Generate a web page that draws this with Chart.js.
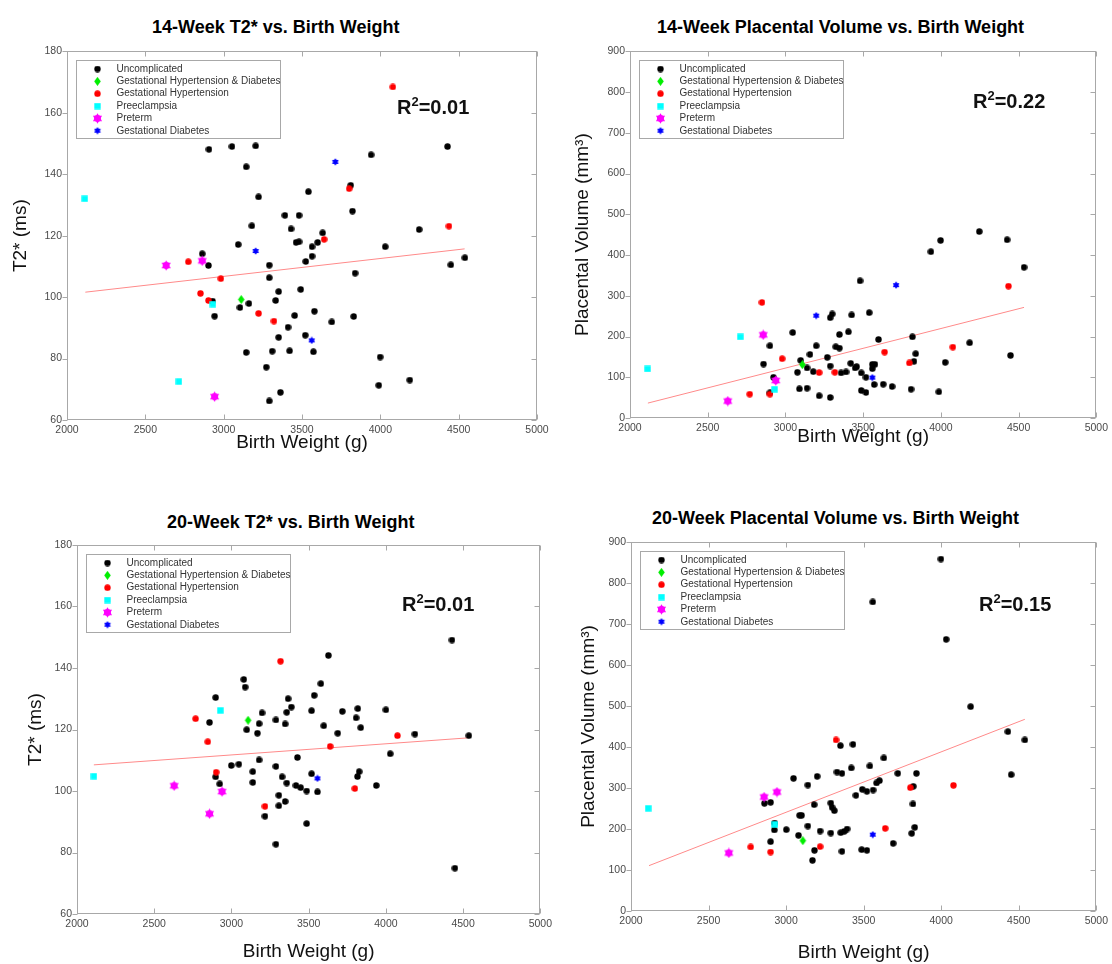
<!DOCTYPE html>
<html>
<head>
<meta charset="utf-8">
<script src="https://cdn.jsdelivr.net/npm/chart.js@4.4.0/dist/chart.umd.min.js"></script>
<style>
    body { margin: 0; background: #fff; width: 1112px; height: 964px; position: relative; overflow: hidden;
           font-family: "Liberation Sans", Arial, sans-serif; }
    canvas { position: absolute; }
    .title { position: absolute; font-weight: bold; font-size: 18px; line-height: 22px; white-space: nowrap; color: #000; }
    .r2 { position: absolute; font-weight: bold; font-size: 20px; line-height: 24px; white-space: nowrap; color: #111; }
    .r2 span { font-size: 13px; position: relative; top: -8px; }
</style>
</head>
<body>

<div class="title" style="left:152px; top:16px;">14-Week T2* vs. Birth Weight</div>
<div class="title" style="left:657px; top:16px;">14-Week Placental Volume vs. Birth Weight</div>
<div class="title" style="left:167px; top:511px;">20-Week T2* vs. Birth Weight</div>
<div class="title" style="left:652px; top:507px;">20-Week Placental Volume vs. Birth Weight</div>

<canvas id="c1" width="556" height="420" style="left:0; top:40px;"></canvas>
<canvas id="c2" width="556" height="420" style="left:556px; top:40px;"></canvas>
<canvas id="c3" width="556" height="464" style="left:0; top:500px;"></canvas>
<canvas id="c4" width="556" height="464" style="left:556px; top:500px;"></canvas>

<div class="r2" style="left:397px; top:95px;">R<span>2</span>=0.01</div>
<div class="r2" style="left:973px; top:89px;">R<span>2</span>=0.22</div>
<div class="r2" style="left:402px; top:592px;">R<span>2</span>=0.01</div>
<div class="r2" style="left:979px; top:592px;">R<span>2</span>=0.15</div>

<script>
// groups, same order in every panel
var groups = ['Uncomplicated', 'Gestational Hypertension & Diabetes', 'Gestational Hypertension',
              'Preeclampsia', 'Preterm', 'Gestational Diabetes'];
var groupColors = ['#000000', '#00ee00', '#ff0000', '#00ffff', '#ff00ff', '#0000ff'];

var weightTicks = [2000, 2500, 3000, 3500, 4000, 4500, 5000];
var t2Ticks = [60, 80, 100, 120, 140, 160, 180];
var volumeTicks = [0, 100, 200, 300, 400, 500, 600, 700, 800, 900];

// ---- 14 week T2* [birth weight g, T2* ms] ----
var t2w14Uncomplicated = [[2906,148.1],[3053,149.0],[3204,149.2],[3144,142.4],[3223,132.6],[3391,126.6],[3481,126.6],[3430,122.2],
    [3180,123.2],[3093,117.1],[2863,114.1],[2903,110.3],[3291,110.4],[3291,106.3],[3351,101.8],[3492,102.5],[3332,98.9],[3104,96.6],
    [3161,97.9],[2942,93.8],[2929,98.7],[3453,94.0],[3579,95.4],[3411,90.2],[3351,86.9],[3521,87.6],[3144,82.0],[3310,82.4],[3421,82.5],
    [3573,82.2],[3272,77.2],[3362,69.0],[3291,66.2],[3690,91.9],[3830,93.7],[3839,107.8],[3822,128.0],[3811,136.4],[3541,134.3],
    [3632,120.9],[3600,117.8],[3564,116.4],[3481,118.0],[3462,117.8],[3524,111.6],[3564,113.3],[3941,146.3],[4429,149.0],[4248,122.0],
    [4031,116.4],[3999,80.5],[3990,71.3],[4188,73.0],[4450,110.5],[4540,112.8]];
var t2w14GHD = [[3112,99.2]];
var t2w14GH = [[4080,168.4],[3801,135.3],[4438,123.1],[3641,118.8],[2774,111.5],[2982,106.0],[2852,101.2],[2903,98.9],[3223,94.7],[3321,92.2]];
var t2w14Preeclampsia = [[2113,132.0],[2931,97.7],[2714,72.5]];
var t2w14Preterm = [[2633,110.3],[2863,111.8],[2942,67.6]];
var t2w14GD = [[3713,144.0],[3204,115.0],[3562,85.9]];
var t2w14Fit = [[2117,101.6],[4538,115.7]];

// ---- 14 week placental volume [birth weight g, volume mm3] ----
var volw14Uncomplicated = [[4247,457.7],[3998,435.8],[4426,437.4],[3936,408.1],[4535,369.9],[3480,336.6],[3539,258.5],[3426,252.8],
    [3288,246.3],[3301,255.3],[3047,209.8],[3405,211.4],[3347,204.9],[3599,192.7],[3817,199.2],[2900,177.2],[3198,177.2],[3324,174.8],
    [3347,171.5],[3158,156.1],[3269,148.8],[3838,157.7],[4185,184.6],[4448,153.7],[3098,141.5],[2859,132.5],[3139,122.8],[3179,113.8],
    [3077,112.2],[3288,127.6],[3420,134.1],[3448,122.8],[3458,126.0],[3358,110.6],[3390,113.0],[3488,110.6],[3518,100.0],[3559,121.1],
    [3576,131.7],[3559,131.7],[3827,139.0],[4028,136.6],[3571,82.1],[3629,82.9],[3686,77.2],[3808,70.7],[3987,64.2],[3488,67.5],
    [3518,62.6],[3090,71.5],[3139,73.2],[3217,54.5],[3288,50.4],[2923,100.0],[2900,61.8]];
var volw14GHD = [[3109,130.9]];
var volw14GH = [[2849,283.7],[4435,323.6],[2979,145.5],[3638,161.8],[4077,174.0],[3797,135.0],[3217,111.4],[3318,112.2],[2770,58.5],[2900,58.5]];
var volw14Preeclampsia = [[2113,120.3],[2710,199.2],[2930,70.7]];
var volw14Preterm = [[2857,204.1],[2938,91.9],[2629,41.5]];
var volw14GD = [[3198,251.2],[3712,326.0],[3559,99.2]];
var volw14Fit = [[2115,36.6],[4535,271.5]];

// ---- 20 week T2* ----
var t2w20Uncomplicated = [[4428,149.1],[3628,144.1],[3080,136.3],[3089,133.8],[2898,130.4],[3367,130.0],[3579,134.9],[3536,131.1],
    [3388,127.3],[3358,125.6],[3198,125.4],[3288,123.1],[3179,121.9],[3348,121.8],[3519,126.1],[3718,125.9],[3818,126.8],[3807,123.8],
    [3837,120.6],[3598,121.2],[3688,118.8],[4000,126.4],[4188,118.5],[4537,118.0],[4028,112.1],[3099,119.9],[3168,118.8],[2858,122.3],
    [3179,110.1],[2999,108.3],[3048,108.7],[3427,110.9],[3138,106.3],[3288,108.0],[2898,104.6],[2924,102.3],[3138,102.8],[3328,104.6],
    [3358,102.6],[3418,101.8],[3448,101.1],[3487,100.0],[3519,105.6],[3557,99.7],[3827,106.3],[3816,104.7],[3938,101.8],[3307,98.6],
    [3307,95.2],[3348,96.6],[3217,91.8],[3487,89.4],[3288,82.7],[4447,74.9]];
var t2w20GHD = [[3108,123.0]];
var t2w20GH = [[3318,142.2],[2768,123.5],[2847,116.0],[2901,106.1],[3639,114.5],[4075,118.0],[3799,100.8],[3217,95.0]];
var t2w20Preeclampsia = [[2928,126.2],[2109,104.8]];
var t2w20Preterm = [[2629,101.7],[2939,99.8],[2858,92.6]];
var t2w20GD = [[3557,104.1]];
var t2w20Fit = [[2109,108.5],[4537,117.3]];

// ---- 20 week placental volume ----
var volw20Uncomplicated = [[3998,858.5],[3559,753.7],[4032,662.6],[4190,498.4],[4430,437.4],[4539,417.1],[4451,332.5],[3350,403.3],
    [3431,406.5],[3630,373.2],[3540,353.7],[3420,348.8],[3328,339.0],[3360,335.8],[3720,335.8],[3840,335.8],[3048,323.6],[3200,328.5],
    [3140,307.3],[3602,317.9],[3583,312.2],[3820,304.1],[3491,296.7],[3521,291.9],[3561,295.1],[3450,282.1],[2860,262.6],[2900,265.0],
    [3181,259.3],[3818,261.0],[3288,263.4],[3296,252.8],[3311,244.7],[3087,233.3],[3100,233.3],[3140,207.3],[3829,204.1],[2926,214.6],
    [2924,197.6],[3001,198.4],[3219,195.1],[3288,190.2],[3352,191.1],[3375,194.3],[3393,200.0],[3080,184.6],[3810,189.4],[2900,169.1],
    [3690,165.0],[3183,148.0],[3360,145.5],[3487,149.6],[3521,148.0],[3170,123.6]];
var volw20GHD = [[3108,171.5]];
var volw20GH = [[3322,417.1],[3801,300.8],[4079,306.5],[3639,201.6],[3219,156.9],[2772,156.1],[2900,143.9]];
var volw20Preeclampsia = [[2111,250.4],[2928,211.4]];
var volw20Preterm = [[2858,278.0],[2941,290.2],[2631,141.5]];
var volw20GD = [[3559,186.2]];
var volw20Fit = [[2116,110.6],[4539,467.5]];

var fontFamily = '"Liberation Sans", Arial, sans-serif';

// little canvases used as point styles (matlab-like markers)
function marker(shape, color, size) {
    var c = document.createElement('canvas');
    c.width = size; c.height = size;
    var g = c.getContext('2d');
    var m = size / 2;
    g.fillStyle = color;
    g.beginPath();
    if (shape === 'circle') {
        g.arc(m, m, m - 0.3, 0, Math.PI * 2);
    } else if (shape === 'diamond') {
        g.moveTo(m, 0); g.lineTo(size - 1.2, m); g.lineTo(m, size); g.lineTo(1.2, m); g.closePath();
    } else if (shape === 'square') {
        g.rect(0.3, 0.3, size - 0.6, size - 0.6);
    } else if (shape === 'hexagram') {
        for (var k = 0; k < 2; k++) {
            for (var j = 0; j < 3; j++) {
                var a = -Math.PI / 2 + k * Math.PI + j * 2 * Math.PI / 3;
                var px = m + (m - 0.2) * Math.cos(a), py = m + (m - 0.2) * Math.sin(a);
                if (j === 0) g.moveTo(px, py); else g.lineTo(px, py);
            }
            g.closePath();
        }
        g.fill();
        g.beginPath();
        g.arc(m, m, m * 0.62, 0, Math.PI * 2);
    }
    g.fill();
    return c;
}
var markers = [
    marker('circle', groupColors[0], 7),
    marker('diamond', groupColors[1], 9),
    marker('circle', groupColors[2], 7),
    marker('square', groupColors[3], 7),
    marker('hexagram', groupColors[4], 11),
    marker('hexagram', groupColors[5], 8)
];

// box around the axes, ticks and the boxed legend in the top-left corner
var framePlugin = {
    id: 'frame',
    afterDatasetsDraw: function (chart) {
        var ctx = chart.ctx, a = chart.chartArea;
        var xs = chart.scales.x, ys = chart.scales.y;
        var l = Math.round(a.left) + 0.5, r = Math.round(a.right) - 0.5;
        var t = Math.round(a.top) + 0.5, b = Math.round(a.bottom) - 0.5;
        ctx.save();
        ctx.strokeStyle = '#a8a8a8';
        ctx.lineWidth = 1;
        ctx.strokeRect(l, t, r - l, b - t);
        ctx.beginPath();
        xs.ticks.forEach(function (tk) {
            var px = Math.round(xs.getPixelForValue(tk.value)) + 0.5;
            ctx.moveTo(px, b); ctx.lineTo(px, b - 5);
            ctx.moveTo(px, t); ctx.lineTo(px, t + 5);
        });
        ys.ticks.forEach(function (tk) {
            var py = Math.round(ys.getPixelForValue(tk.value)) + 0.5;
            ctx.moveTo(l, py); ctx.lineTo(l - 5, py);
            ctx.moveTo(r, py); ctx.lineTo(r - 5, py);
        });
        ctx.stroke();
        ctx.restore();
    },
    afterDraw: function (chart) {
        var ctx = chart.ctx, a = chart.chartArea;
        var bx = Math.round(a.left) + 9.5, by = Math.round(a.top) + 9.5;
        ctx.save();
        ctx.fillStyle = '#fff';
        ctx.fillRect(bx, by, 204, 78);
        ctx.strokeStyle = '#a8a8a8';
        ctx.strokeRect(bx, by, 204, 78);
        ctx.font = '10px ' + fontFamily;
        ctx.textBaseline = 'middle';
        groups.forEach(function (name, i) {
            var y = by + 8.5 + i * 12.35;
            var m = markers[i];
            ctx.drawImage(m, bx + 21 - m.width / 2, y - m.height / 2);
            ctx.fillStyle = '#333';
            ctx.fillText(name, bx + 40, y);
        });
        ctx.restore();
    }
};

function toPoints(arr) {
    return arr.map(function (d) { return {x: d[0], y: d[1]}; });
}

function plainLabel(v) {
    return String(v);
}

function makeChart(id, sets, fit, yMin, yMax, yTicks, yTitle, lay) {
    var datasets = sets.map(function (pts, i) {
        return {
            label: groups[i],
            data: toPoints(pts),
            pointStyle: markers[i],
            pointRadius: 3,
            order: 6 - i
        };
    });
    datasets.push({
        type: 'line',
        label: 'fit',
        data: toPoints(fit),
        borderColor: '#ff8a8a',
        borderWidth: 1,
        pointRadius: 0,
        order: 10
    });

    new Chart(document.getElementById(id), {
        type: 'scatter',
        data: {datasets: datasets},
        options: {
            responsive: false,
            animation: false,
            layout: {padding: {top: lay.top, right: lay.right, left: 0, bottom: 0}},
            plugins: {legend: {display: false}, tooltip: {enabled: false}},
            scales: {
                x: {
                    type: 'linear', min: 2000, max: 5000,
                    afterBuildTicks: function (s) { s.ticks = weightTicks.map(function (v) { return {value: v}; }); },
                    afterFit: function (s) { s.height = lay.xh; },
                    grid: {display: false, drawTicks: false},
                    border: {display: false},
                    ticks: {padding: 4, color: '#4a4a4a', font: {size: 10.5, family: fontFamily}, maxRotation: 0,
                            autoSkip: false, callback: plainLabel},
                    title: {display: true, text: 'Birth Weight (g)', color: '#111',
                            font: {size: 19, family: fontFamily}, padding: {top: 0, bottom: lay.xtp}}
                },
                y: {
                    type: 'linear', min: yMin, max: yMax,
                    afterBuildTicks: function (s) { s.ticks = yTicks.map(function (v) { return {value: v}; }); },
                    afterFit: function (s) { s.width = lay.yw; },
                    grid: {display: false, drawTicks: false},
                    border: {display: false},
                    ticks: {padding: 5, color: '#4a4a4a', font: {size: 10.5, family: fontFamily}, autoSkip: false,
                            callback: plainLabel},
                    title: {display: true, text: yTitle, color: '#111',
                            font: {size: 19, family: fontFamily}, padding: {top: lay.ytp, bottom: 0}}
                }
            }
        },
        plugins: [framePlugin]
    });
}

makeChart('c1', [t2w14Uncomplicated, t2w14GHD, t2w14GH, t2w14Preeclampsia, t2w14Preterm, t2w14GD], t2w14Fit,
          60, 180, t2Ticks, 'T2* (ms)', {top: 11, right: 19, yw: 67, xh: 40, xtp: 6, ytp: 9});
makeChart('c2', [volw14Uncomplicated, volw14GHD, volw14GH, volw14Preeclampsia, volw14Preterm, volw14GD], volw14Fit,
          0, 900, volumeTicks, 'Placental Volume (mm\u00b3)', {top: 9, right: 13, yw: 74, xh: 42, xtp: 12, ytp: 15});
makeChart('c3', [t2w20Uncomplicated, t2w20GHD, t2w20GH, t2w20Preeclampsia, t2w20Preterm, t2w20GD], t2w20Fit,
          60, 180, t2Ticks, 'T2* (ms)', {top: 45, right: 11, yw: 77, xh: 50, xtp: 1, ytp: 24});
makeChart('c4', [volw20Uncomplicated, volw20GHD, volw20GH, volw20Preeclampsia, volw20Preterm, volw20GD], volw20Fit,
          0, 900, volumeTicks, 'Placental Volume (mm\u00b3)', {top: 42, right: 13, yw: 75, xh: 53, xtp: 0, ytp: 21});
</script>
</body>
</html>
